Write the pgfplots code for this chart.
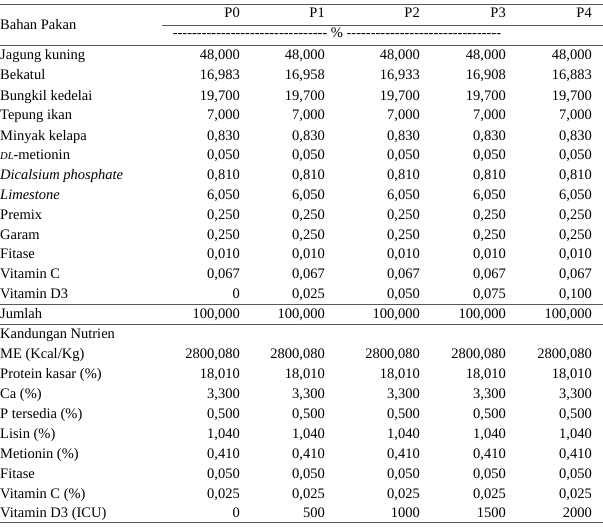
\documentclass[border=0pt]{standalone}
\usepackage{pgfplots}
\pgfplotsset{compat=1.18}
\usepackage{pgfplotstable}
\usepackage{fontspec}
\setmainfont{Liberation Serif}

% row centres in pixels (top = 0), names of the rows
\pgfplotstableread[col sep=semicolon]{
y;name
55;Jagung kuning
75;Bekatul
95;Bungkil kedelai
115;Tepung ikan
135;Minyak kelapa
154;{\fontsize{10.5}{12}\selectfont\itshape DL}-metionin
174;\textit{Dicalsium phosphate}
194;\textit{Limestone}
214;Premix
234;Garam
253;Fitase
273;Vitamin C
293;Vitamin D3
313;Jumlah
333;Kandungan Nutrien
353;ME (Kcal/Kg)
373;Protein kasar (\%)
393;Ca (\%)
413;P tersedia (\%)
433;Lisin (\%)
453;Metionin (\%)
473;Fitase
493;Vitamin C (\%)
512;Vitamin D3 (ICU)
}\names

\pgfplotstableread[col sep=semicolon]{
y;p0;p1;p2;p3;p4
13;P0;P1;P2;P3;P4
55;48,000;48,000;48,000;48,000;48,000
75;16,983;16,958;16,933;16,908;16,883
95;19,700;19,700;19,700;19,700;19,700
115;7,000;7,000;7,000;7,000;7,000
135;0,830;0,830;0,830;0,830;0,830
154;0,050;0,050;0,050;0,050;0,050
174;0,810;0,810;0,810;0,810;0,810
194;6,050;6,050;6,050;6,050;6,050
214;0,250;0,250;0,250;0,250;0,250
234;0,250;0,250;0,250;0,250;0,250
253;0,010;0,010;0,010;0,010;0,010
273;0,067;0,067;0,067;0,067;0,067
293;0;0,025;0,050;0,075;0,100
313;100,000;100,000;100,000;100,000;100,000
353;2800,080;2800,080;2800,080;2800,080;2800,080
373;18,010;18,010;18,010;18,010;18,010
393;3,300;3,300;3,300;3,300;3,300
413;0,500;0,500;0,500;0,500;0,500
433;1,040;1,040;1,040;1,040;1,040
453;0,410;0,410;0,410;0,410;0,410
473;0,050;0,050;0,050;0,050;0,050
493;0,025;0,025;0,025;0,025;0,025
512;0;500;1000;1500;2000
}\vals

\begin{document}
\begin{tikzpicture}[x=1pt,y=1pt]
\begin{axis}[
  at={(0,0)}, anchor=south west,
  width=603pt, height=527pt, scale only axis,
  xmin=0, xmax=603, ymin=0, ymax=527, y dir=reverse,
  axis lines=none, clip=false,
  point meta=explicit symbolic,
  every axis plot/.append style={mark=none, draw=none},
  nodes near coords,
  nodes near coords style={inner sep=0pt, font=\fontsize{14.5}{17}\selectfont, text=black},
]
\addplot[nodes near coords style={anchor=base west}]
  table[x expr=0, y expr=\thisrow{y}+5, meta=name] {\names};
\addplot[nodes near coords style={anchor=base east}]
  table[x expr=240, y expr=\thisrow{y}+5, meta=p0] {\vals};
\addplot[nodes near coords style={anchor=base east}]
  table[x expr=325, y expr=\thisrow{y}+5, meta=p1] {\vals};
\addplot[nodes near coords style={anchor=base east}]
  table[x expr=420, y expr=\thisrow{y}+5, meta=p2] {\vals};
\addplot[nodes near coords style={anchor=base east}]
  table[x expr=506, y expr=\thisrow{y}+5, meta=p3] {\vals};
\addplot[nodes near coords style={anchor=base east}]
  table[x expr=592, y expr=\thisrow{y}+5, meta=p4] {\vals};

\node[anchor=base west, inner sep=0pt, font=\fontsize{14.5}{17}\selectfont]
  at (axis cs:0,30) {Bahan Pakan};
\node[anchor=base, inner sep=0pt, font=\fontsize{14.5}{17}\selectfont]
  at (axis cs:337,38) {\foreach \i in {1,...,32}{-} \% \foreach \i in {1,...,32}{-}};

\begin{scope}[draw=black!65, line width=0.9pt]
\draw (axis cs:0,4) -- (axis cs:603,4);
\draw (axis cs:162,25) -- (axis cs:603,25);
\draw (axis cs:0,45) -- (axis cs:603,45);
\draw (axis cs:0,304) -- (axis cs:603,304);
\draw (axis cs:0,324) -- (axis cs:603,324);
\draw (axis cs:0,522) -- (axis cs:603,522);
\end{scope}
\end{axis}
\pgfresetboundingbox
\path (0,0) rectangle (603,527);
\end{tikzpicture}
\end{document}
